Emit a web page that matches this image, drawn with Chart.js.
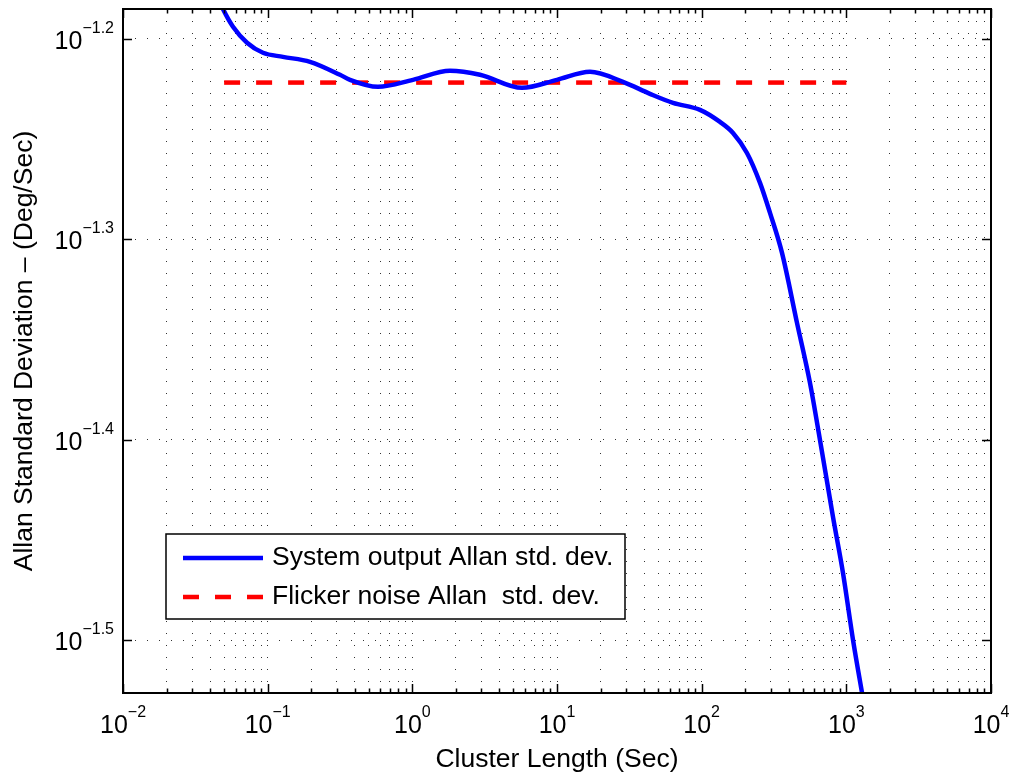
<!DOCTYPE html>
<html>
<head>
<meta charset="utf-8">
<script src="https://cdn.jsdelivr.net/npm/chart.js@4.4.1/dist/chart.umd.min.js"></script>
<style>
	html, body { margin: 0; padding: 0; background: #fff; }
</style>
</head>
<body>
<canvas id="allanChart" width="1016" height="778"></canvas>
<script>
// cluster length (s) and Allan deviation of the system output
const clusterLength = [0.0461, 0.0491, 0.0576, 0.0720, 0.0928, 0.1276, 0.1962, 0.3162, 0.3708, 0.5789,
	1.010, 1.821, 2.935, 5.728, 10.0, 16.91, 28.59, 43.93, 63.36, 97.36,
	133.9, 164.7, 205.7, 253.1, 296.7, 359.2, 456.0, 560.7, 657.2, 808.6,
	947.9, 1112, 1283, 1345];
const systemDev = [0.06597, 0.06529, 0.06397, 0.06281, 0.06209, 0.06180, 0.06145, 0.06054, 0.06019, 0.05971,
	0.06019, 0.06082, 0.06054, 0.05964, 0.06019, 0.06075, 0.06005, 0.05923, 0.05862, 0.05815,
	0.05735, 0.05663, 0.05534, 0.05347, 0.05166, 0.04934, 0.04553, 0.04250, 0.03981, 0.03644,
	0.03417, 0.03164, 0.02978, 0.02920];

// flicker noise floor
const flickerLength = [0.05, 1000];
const flickerDev = [0.06, 0.06];

// axis decades / tick exponents
const xDecades = [-2, -1, 0, 1, 2, 3, 4];
const yExponents = ['-1.2', '-1.3', '-1.4', '-1.5'];
const xMin = 0.01, xMax = 10000;
const yMin = 0.029765, yMax = 0.06529;

const fontFamily = '"Liberation Sans", Arial, Helvetica, sans-serif';
const textFont = '26.5px ' + fontFamily;

const xMajor = xDecades.map(d => Math.pow(10, d));
const xMinor = [];
xDecades.slice(0, -1).forEach(d => {
	for (let m = 2; m <= 9; m++) xMinor.push(m * Math.pow(10, d));
});
const xGrid = xMajor.concat(xMinor).sort((a, b) => a - b);
const yMajor = yExponents.map(e => Math.pow(10, parseFloat(e)));

function toPoints(xs, ys) {
	return xs.map((x, i) => ({x: x, y: ys[i]}));
}

// "10" with a raised exponent
function drawPower(ctx, exp, x, y, align) {
	const base = '25px ' + fontFamily;
	const sup = '16px ' + fontFamily;
	const label = exp.replace('-', '\u2212');
	ctx.font = base;
	const wb = ctx.measureText('10').width;
	ctx.font = sup;
	const ws = ctx.measureText(label).width;
	const left = align === 'center' ? x - (wb + ws) / 2 : x - (wb + ws);
	ctx.textAlign = 'left';
	ctx.textBaseline = 'alphabetic';
	ctx.fillStyle = '#000';
	ctx.font = base;
	ctx.fillText('10', left, y);
	ctx.font = sup;
	ctx.fillText(label, left + wb, y - 16);
}

const matlabAxes = {
	id: 'matlabAxes',
	afterDraw(chart) {
		const {ctx, chartArea: a, scales: {x, y}} = chart;
		ctx.save();

		// inward tick marks
		ctx.strokeStyle = '#000';
		ctx.lineWidth = 1.5;
		ctx.beginPath();
		xGrid.forEach(v => {
			const px = Math.round(x.getPixelForValue(v)) + 0.5;
			const len = xMajor.includes(v) ? 9 : 4.5;
			ctx.moveTo(px, a.bottom); ctx.lineTo(px, a.bottom - len);
			ctx.moveTo(px, a.top); ctx.lineTo(px, a.top + len);
		});
		yMajor.forEach(v => {
			const py = Math.round(y.getPixelForValue(v)) + 0.5;
			ctx.moveTo(a.left, py); ctx.lineTo(a.left + 9, py);
			ctx.moveTo(a.right, py); ctx.lineTo(a.right - 9, py);
		});
		ctx.stroke();

		// frame
		ctx.lineWidth = 2;
		ctx.strokeRect(a.left, a.top, a.right - a.left, a.bottom - a.top);

		// tick labels
		xDecades.forEach(d => drawPower(ctx, String(d), x.getPixelForValue(Math.pow(10, d)), a.bottom + 40, 'center'));
		yExponents.forEach((e, i) => drawPower(ctx, e, a.left - 9, y.getPixelForValue(yMajor[i]) + 10, 'right'));

		// axis titles
		ctx.fillStyle = '#000';
		ctx.textAlign = 'center';
		ctx.textBaseline = 'alphabetic';
		ctx.font = textFont;
		ctx.fillText('Cluster Length (Sec)', (a.left + a.right) / 2, 767);
		ctx.save();
		ctx.translate(32, (a.top + a.bottom) / 2);
		ctx.rotate(-Math.PI / 2);
		ctx.fillText('Allan Standard Deviation \u2013 (Deg/Sec)', 0, 0);
		ctx.restore();

		// legend box
		const box = {left: 166, top: 534, right: 625, bottom: 619};
		ctx.fillStyle = '#fff';
		ctx.fillRect(box.left, box.top, box.right - box.left, box.bottom - box.top);
		ctx.strokeStyle = '#000';
		ctx.lineWidth = 1.5;
		ctx.strokeRect(box.left, box.top, box.right - box.left, box.bottom - box.top);
		chart.data.datasets.forEach((ds, i) => {
			const ly = 558 + i * 39;
			ctx.strokeStyle = ds.borderColor;
			ctx.lineWidth = ds.borderWidth;
			ctx.setLineDash(ds.borderDash || []);
			ctx.beginPath();
			ctx.moveTo(183, ly);
			ctx.lineTo(263, ly);
			ctx.stroke();
			ctx.setLineDash([]);
			ctx.fillStyle = '#000';
			ctx.font = textFont;
			ctx.textAlign = 'left';
			ctx.textBaseline = 'middle';
			ctx.fillText(ds.label, 272, ly);
		});
		ctx.restore();
	}
};

const dottedGrid = {
	color: '#333',
	lineWidth: 1,
	drawTicks: false,
	tickLength: 0
};

new Chart(document.getElementById('allanChart'), {
	type: 'line',
	data: {
		datasets: [{
			label: 'System output Allan std. dev.',
			data: toPoints(clusterLength, systemDev),
			borderColor: '#0000ff',
			borderWidth: 4.5,
			pointRadius: 0,
			cubicInterpolationMode: 'monotone',
			clip: 0
		}, {
			label: 'Flicker noise Allan  std. dev.',
			data: toPoints(flickerLength, flickerDev),
			borderColor: '#ff0000',
			borderWidth: 4.5,
			borderDash: [16, 16],
			borderCapStyle: 'butt',
			pointRadius: 0,
			clip: 0
		}]
	},
	options: {
		responsive: false,
		animation: false,
		devicePixelRatio: 1,
		layout: {padding: {left: 123, top: 9, right: 25, bottom: 85}},
		plugins: {
			legend: {display: false},
			tooltip: {enabled: false}
		},
		scales: {
			x: {
				type: 'logarithmic',
				min: xMin,
				max: xMax,
				ticks: {display: false, autoSkip: false},
				grid: dottedGrid,
				border: {display: false, dash: [1, 11]},
				afterBuildTicks: s => { s.ticks = xGrid.map(v => ({value: v})); }
			},
			y: {
				type: 'logarithmic',
				min: yMin,
				max: yMax,
				ticks: {display: false, autoSkip: false},
				grid: dottedGrid,
				border: {display: false, dash: [1, 11]},
				afterBuildTicks: s => { s.ticks = yMajor.map(v => ({value: v})); }
			}
		}
	},
	plugins: [matlabAxes]
});
</script>
</body>
</html>
